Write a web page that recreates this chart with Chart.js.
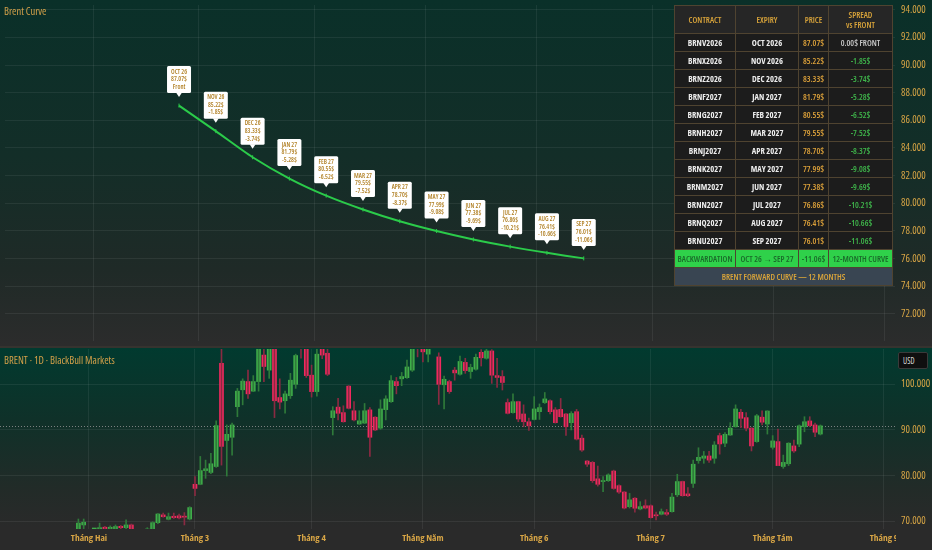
<!DOCTYPE html>
<html>
<head>
<meta charset="utf-8">
<script src="https://cdn.jsdelivr.net/npm/chart.js@4.4.1/dist/chart.umd.min.js"></script>
<style>
  html, body { margin:0; padding:0; background:#2a2a2a; }
  body { width:932px; height:550px; position:relative; overflow:hidden; }
  #topPane { position:absolute; left:0; top:0; width:932px; height:346px;
    background:linear-gradient(180deg,#0a3029 0%,#132e28 45%,#1f2a27 78%,#2c2c2c 100%); }
  #sep { position:absolute; left:0; top:346px; width:932px; height:2px; background:#36332f; }
  #botPane { position:absolute; left:0; top:348px; width:932px; height:202px;
    background:linear-gradient(180deg,#013a2f 0%,#0f3129 35%,#222b28 70%,#2a2a2a 89%,#2a2a2a 100%); }
  .title { position:absolute; left:4px; color:#d3a049; font-family:'Open Sans',sans-serif; font-stretch:condensed; font-size:10.5px; }
  #usd { position:absolute; left:898px; top:352px; width:30px; height:17px; background:#0f0f0f; border:1px solid #3a3a3a;
    border-radius:2px; color:#dcdcdc; font-family:'Open Sans',sans-serif; font-stretch:condensed; font-size:8px;
    line-height:15px; padding-left:4px; box-sizing:border-box; }
  #axisMask { position:absolute; left:896px; top:530px; width:36px; height:20px; background:#2a2a2a; }
  #curveTable { position:absolute; left:674px; top:5px; width:218px; border-collapse:collapse; table-layout:fixed;
    font-family:'Open Sans',sans-serif; font-stretch:condensed;
    font-size:8.5px; font-weight:bold; text-align:center; border:1px solid #6a5631; }
  #curveTable th, #curveTable td { border:1px solid #4f4330; padding:0; }
  #curveTable th { height:27px; background:#262626; color:#d9a43a; font-weight:600; line-height:10px; }
  #curveTable td { height:17px; background:#1c1c1c; color:#ececec; }
  #curveTable td.price { color:#dca13a; font-weight:600; }
  #curveTable td.spread { color:#3fb54b; font-weight:600; }
  #curveTable td.front { color:#c9c9c9; font-weight:600; }
  #curveTable tr.backw td { background:#2fd14a; color:#1a6a2a; font-weight:600; }
  #curveTable tr.foot td { background:#394552; color:#d9a43a; font-weight:600; }
</style>
</head>
<body>
<div id="topPane"><canvas id="curveChart"></canvas></div>
<div id="sep"></div>
<div id="botPane"><canvas id="priceChart"></canvas></div>
<div class="title" style="top:4px">Brent Curve</div>
<div class="title" style="top:353px">BRENT · 1D · BlackBull Markets</div>
<div id="usd">USD</div>
<div id="axisMask"></div>
<table id="curveTable"></table>
<script>
// forward curve
const curveMonths = ['OCT 26','NOV 26','DEC 26','JAN 27','FEB 27','MAR 27','APR 27','MAY 27','JUN 27','JUL 27','AUG 27','SEP 27'];
const contracts = ['BRNV2026','BRNX2026','BRNZ2026','BRNF2027','BRNG2027','BRNH2027','BRNJ2027','BRNK2027','BRNM2027','BRNN2027','BRNQ2027','BRNU2027'];
const expiries = ['OCT 2026','NOV 2026','DEC 2026','JAN 2027','FEB 2027','MAR 2027','APR 2027','MAY 2027','JUN 2027','JUL 2027','AUG 2027','SEP 2027'];
const curvePrices = [87.07, 85.22, 83.33, 81.79, 80.55, 79.55, 78.70, 77.99, 77.38, 76.86, 76.41, 76.01];
const curveSpreads = [0.00, -1.85, -3.74, -5.28, -6.52, -7.52, -8.37, -9.08, -9.69, -10.21, -10.66, -11.06];
const curveTicks = [72, 74, 76, 78, 80, 82, 84, 86, 88, 90, 92, 94];

// daily candles, bar index 0 = first trading day of February
const firstBar = -2;
const opens = [68.0,69.2,67.9,67.4,67.8,68.7,68.4,68.2,68.9,68.6,69.2,68.1,67.6,67.9,68.2,69.7,71.4,70.45,71.1,71.2,71.1,70.5,
  78.1,78.1,81.1,80.7,82.0,104.6,87.7,88.4,95.1,98.8,100.6,98.5,100.6,106.4,103.1,108.4,97.1,96.4,97.5,100.0,109.5,109.0,
  102.0,98.4,108.8,106.8,92.7,95.0,93.8,99.6,94.2,91.3,91.5,94.4,92.8,90.4,94.45,96.2,100.6,101.2,101.45,103.1,109.5,108.2,
  106.6,109.4,106.0,99.9,100.6,103.1,102.2,104.8,102.8,103.3,107.0,105.7,107.3,101.9,101.7,96.0,93.8,96.2,93.5,91.8,
  92.3,94.0,96.0,96.4,94.4,94.5,93.5,91.6,94.0,88.2,83.2,82.9,79.3,78.7,78.9,81.0,77.8,76.4,
  73.2,75.05,72.7,73.4,73.4,71.4,71.55,71.9,72.1,75.8,78.7,76.0,78.3,83.3,83.8,84.3,83.8,88.76,87.1,88.9,90.7,93.87,92.7,90.4,87.45,92.8,91.3,
  86.2,87.45,82.0,82.6,86.5,86.9,90.7,91.97,91.1,89.1];
const highs = [70.5,70.5,68.2,68.0,69.6,68.9,69.0,69.2,69.1,70.3,69.4,68.2,68.1,68.6,69.9,71.7,71.8,71.8,71.8,71.6,71.9,73.2,
  79.8,84.2,83.4,84.9,92.0,108.0,91.1,91.5,99.1,101.2,103.1,101.9,109.0,108.0,109.0,109.0,101.2,98.5,102.4,106.6,110.0,109.5,
  104.2,109.0,109.2,108.6,95.1,96.9,95.3,99.7,96.2,94.2,95.8,94.9,92.9,96.6,97.5,101.9,101.5,102.6,105.3,108.5,110.0,108.8,
  108.5,110.5,106.9,101.8,100.9,103.7,106.2,105.7,104.4,106.6,107.6,107.7,107.6,105.7,103.0,96.8,97.9,96.3,95.5,92.6,
  97.3,95.7,98.2,96.6,94.9,96.9,93.6,94.0,94.5,88.9,83.3,83.1,82.1,79.8,80.4,81.2,78.0,76.5,
  76.1,75.2,74.3,74.7,73.6,72.0,72.7,72.6,76.1,80.3,78.8,77.4,83.4,86.1,85.3,85.3,87.45,89.3,89.4,91.6,95.5,94.5,93.8,90.5,93.4,94.2,94.2,
  88.76,90.2,84.5,87.2,87.8,91.1,92.9,92.9,91.5,91.1];
const lows = [67.5,68.3,66.9,66.5,67.3,67.9,68.0,67.8,68.3,68.4,67.9,67.0,67.1,67.6,67.9,69.5,70.9,70.3,70.6,70.5,69.2,70.3,
  75.6,78.0,79.4,80.4,81.8,82.3,79.9,84.5,92.9,95.5,96.9,98.4,98.5,100.6,101.3,92.7,94.6,93.7,96.9,99.1,105.7,101.5,
  97.2,97.4,105.6,101.9,88.9,92.2,91.7,94.6,92.0,91.24,91.4,84.2,89.85,90.15,92.2,96.05,97.9,99.7,101.3,102.8,106.0,104.9,
  104.9,108.2,95.6,94.6,98.0,100.9,102.0,102.4,101.3,103.1,104.0,105.5,100.2,99.3,98.75,93.5,93.65,91.8,90.7,89.9,
  92.2,92.3,95.8,93.5,91.5,92.8,88.8,90.0,87.8,85.3,82.0,78.5,77.7,76.5,78.7,77.0,76.1,72.7,
  72.9,72.0,72.5,72.7,70.7,70.3,71.4,71.25,72.0,75.4,75.5,75.4,77.4,82.7,82.7,82.9,82.7,84.7,86.35,88.8,90.6,90.5,89.8,85.4,87.3,91.1,89.1,
  85.8,82.2,81.6,82.2,85.1,86.35,89.6,90.7,88.55,88.9];
const closes = [69.6,69.8,67.4,67.6,68.6,68.4,68.7,68.85,68.6,69.2,68.3,67.6,67.9,68.3,69.7,71.6,71.0,71.0,70.8,70.75,70.9,73.0,
  77.2,81.1,81.5,82.6,90.95,86.4,89.05,91.1,98.5,100.7,97.9,100.6,108.5,103.9,108.2,96.4,96.1,97.9,100.9,106.3,108.2,101.9,
  98.4,106.6,106.4,102.2,94.2,93.65,91.8,94.75,92.2,92.0,94.2,88.4,90.0,94.6,96.8,100.8,99.7,101.7,103.8,108.0,108.8,107.1,
  108.0,110.0,100.0,101.1,98.4,102.5,105.0,103.0,103.7,105.9,105.8,107.3,102.0,101.5,100.4,93.65,96.2,92.4,91.8,90.9,
  94.6,94.9,96.8,94.0,91.6,92.9,90.7,93.6,88.0,85.6,82.5,78.9,78.1,78.9,80.15,77.2,76.4,72.9,
  74.7,72.86,73.2,72.9,70.8,71.2,72.1,71.55,75.3,78.7,75.6,75.6,82.5,84.0,84.3,83.4,86.7,86.94,89.05,90.4,94.6,92.55,90.4,86.5,93.1,91.7,94.15,
  87.6,82.2,82.9,87.1,85.4,90.9,91.8,90.95,89.5,90.9];
const monthTicks = [0, 20, 42, 63, 84, 106, 129, 150];
const monthLabels = ['Tháng Hai', 'Tháng 3', 'Tháng 4', 'Tháng Năm', 'Tháng 6', 'Tháng 7', 'Tháng Tám', 'Tháng 9'];
const priceTicks = [70, 80, 90, 100];

const gold = '#d6a445';
const narrow = "'Open Sans', sans-serif";
// chart.js puts weight right before the size, so the stretch keyword rides along with it
const axisFont = {family: narrow, weight: 'normal condensed', size: 10.5};
const gridColor = 'rgba(255,255,255,0.065)';
const upColor = '#3fae4a', downColor = '#f2295f';
const upWick = '#2f7a3a', downWick = '#8a2a42';

function buildTable() {
    const table = document.getElementById('curveTable');
    let html = '<colgroup><col style="width:61px"><col style="width:63px"><col style="width:30px"><col style="width:64px"></colgroup>';
    html += '<tr><th>CONTRACT</th><th>EXPIRY</th><th>PRICE</th><th>SPREAD<br>vs FRONT</th></tr>';
    for (let i = 0; i < contracts.length; i++) {
        const spread = i === 0
            ? '<td class="front">' + curveSpreads[i].toFixed(2) + '$ FRONT</td>'
            : '<td class="spread">' + curveSpreads[i].toFixed(2) + '$</td>';
        html += '<tr><td>' + contracts[i] + '</td><td>' + expiries[i] + '</td><td class="price">' +
            curvePrices[i].toFixed(2) + '$</td>' + spread + '</tr>';
    }
    const last = curveSpreads.length - 1;
    html += '<tr class="backw"><td>BACKWARDATION</td><td>' + curveMonths[0] + ' → ' + curveMonths[last] +
        '</td><td>' + curveSpreads[last].toFixed(2) + '$</td><td>12-MONTH CURVE</td></tr>';
    html += '<tr class="foot"><td colspan="4">BRENT FORWARD CURVE — 12 MONTHS</td></tr>';
    table.innerHTML = html;
}

// white label boxes above each curve point
const calloutPlugin = {
    id: 'callouts',
    afterDatasetsDraw(chart) {
        const ctx = chart.ctx;
        const meta = chart.getDatasetMeta(0);
        ctx.save();
        meta.data.forEach((pt, i) => {
            const w = 24, h = 27;
            const bx = pt.x - w / 2, by = pt.y - 12.5 - h;
            ctx.fillStyle = '#ffffff';
            ctx.beginPath();
            if (ctx.roundRect) ctx.roundRect(bx, by, w, h, 1.5); else ctx.rect(bx, by, w, h);
            ctx.fill();
            ctx.beginPath();
            ctx.moveTo(pt.x - 3, by + h - 0.5);
            ctx.lineTo(pt.x, by + h + 4);
            ctx.lineTo(pt.x + 3, by + h - 0.5);
            ctx.fill();
            ctx.fillStyle = '#b07f22';
            ctx.font = "600 condensed 6.4px 'Open Sans', sans-serif";
            ctx.textAlign = 'center';
            ctx.textBaseline = 'middle';
            const third = i === 0 ? 'Front' : curveSpreads[i].toFixed(2) + '$';
            const lines = [curveMonths[i], curvePrices[i].toFixed(2) + '$', third];
            lines.forEach((t, k) => ctx.fillText(t, pt.x, by + 5.8 + k * 7.6));
        });
        ctx.restore();
    }
};

// dotted line at the last close
const lastPricePlugin = {
    id: 'lastPrice',
    beforeDatasetsDraw(chart) {
        const {ctx, chartArea, scales} = chart;
        const y = Math.round(scales.y.getPixelForValue(closes[closes.length - 1])) + 0.5;
        ctx.save();
        ctx.strokeStyle = 'rgba(150,150,150,0.8)';
        ctx.lineWidth = 1;
        ctx.setLineDash([1, 2]);
        ctx.beginPath();
        ctx.moveTo(chartArea.left, y);
        ctx.lineTo(chartArea.right, y);
        ctx.stroke();
        ctx.restore();
    }
};

function noPad(scale) {
    scale.paddingLeft = 0; scale.paddingRight = 0;
    scale.paddingTop = 0; scale.paddingBottom = 0;
}

function drawCurveChart() {
    const ctx = document.getElementById('curveChart').getContext('2d');
    new Chart(ctx, {
        type: 'line',
        data: {
            datasets: [{
                data: curvePrices.map((p, i) => ({x: i, y: p})),
                borderColor: '#2bcb4a',
                borderWidth: 2,
                tension: 0.25,
                pointStyle: 'line',
                rotation: 90,
                pointRadius: 2,
                pointBorderWidth: 1,
                pointBorderColor: '#2bcb4a',
                fill: false
            }]
        },
        options: {
            responsive: true,
            maintainAspectRatio: false,
            animation: false,
            layout: {padding: 0},
            plugins: {legend: {display: false}, tooltip: {enabled: false}},
            scales: {
                x: {type: 'linear', min: -4.73, max: 19.46, display: false},
                xt: {
                    type: 'linear', position: 'bottom', min: -16.79, max: 152.08,
                    afterBuildTicks: s => { s.ticks = monthTicks.map(v => ({value: v})); },
                    ticks: {display: false},
                    grid: {color: gridColor, drawTicks: false},
                    border: {display: false},
                    afterFit: s => { s.height = 0; noPad(s); }
                },
                y: {
                    position: 'right', min: 70.03, max: 94.35,
                    afterBuildTicks: s => { s.ticks = curveTicks.map(v => ({value: v})); },
                    ticks: {callback: v => v.toFixed(3), color: gold, font: axisFont, padding: 6},
                    grid: {color: gridColor, drawTicks: false},
                    border: {display: false},
                    afterFit: s => { s.width = 37; noPad(s); }
                }
            }
        },
        plugins: [calloutPlugin]
    });
}

function drawPriceChart() {
    const wicks = lows.map((l, k) => ({x: k + firstBar, y: [l, highs[k]]}));
    const bodies = opens.map((o, k) => ({x: k + firstBar, y: [Math.min(o, closes[k]), Math.max(o, closes[k])]}));
    const isUp = c => closes[c.dataIndex] >= opens[c.dataIndex];
    const ctx = document.getElementById('priceChart').getContext('2d');
    new Chart(ctx, {
        type: 'bar',
        data: {
            datasets: [
                {data: wicks, barThickness: 1, grouped: false, clip: 0, borderWidth: 0,
                 backgroundColor: c => isUp(c) ? upWick : downWick},
                {data: bodies, barThickness: 4, grouped: false, clip: 0, borderWidth: 0, minBarLength: 1,
                 backgroundColor: c => isUp(c) ? upColor : downColor}
            ]
        },
        options: {
            responsive: true,
            maintainAspectRatio: false,
            animation: false,
            layout: {padding: {top: 1, left: 0, right: 0, bottom: 0}},
            plugins: {legend: {display: false}, tooltip: {enabled: false}},
            scales: {
                x: {
                    type: 'linear', min: -16.79, max: 152.08, offset: false,
                    afterBuildTicks: s => { s.ticks = monthTicks.map(v => ({value: v})); },
                    ticks: {
                        callback: v => monthLabels[monthTicks.indexOf(v)],
                        autoSkip: false, maxRotation: 0, color: gold,
                        font: {family: narrow, weight: 'bold condensed', size: 9.5},
                        padding: 4
                    },
                    grid: {color: gridColor, drawTicks: false, offset: false},
                    border: {display: false},
                    afterFit: s => { s.height = 21; noPad(s); }
                },
                y: {
                    position: 'right', min: 68.31, max: 107.73,
                    afterBuildTicks: s => { s.ticks = priceTicks.map(v => ({value: v})); },
                    ticks: {callback: v => v.toFixed(3), color: gold, font: axisFont, padding: 6},
                    grid: {color: gridColor, drawTicks: false},
                    border: {display: false},
                    afterFit: s => { s.width = 37; noPad(s); }
                }
            }
        },
        plugins: [lastPricePlugin]
    });
}

buildTable();
drawCurveChart();
drawPriceChart();
</script>
</body>
</html>
